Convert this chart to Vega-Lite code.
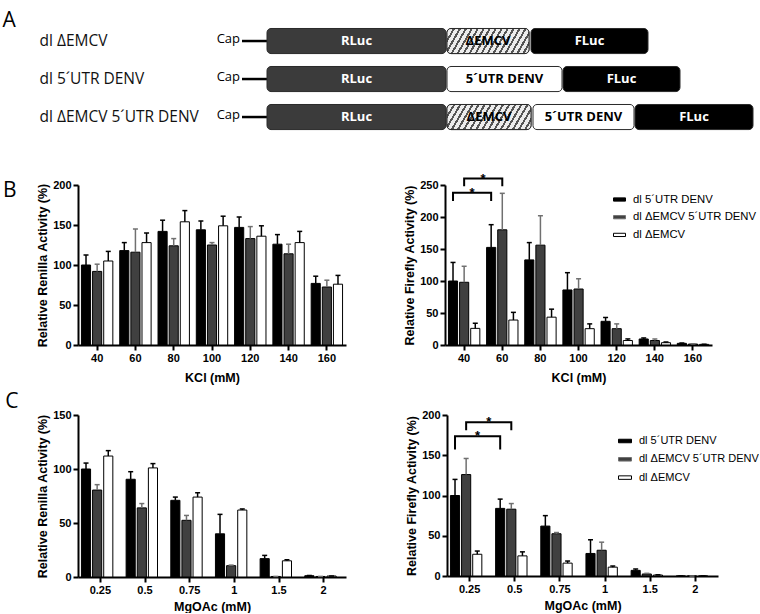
{
  "$schema": "https://vega.github.io/schema/vega-lite/v6.json",
  "padding": {"left": 2, "top": 10, "right": 0, "bottom": 0},
  "resolve": {"scale": {"fill": "independent", "color": "independent"}, "legend": {"fill": "independent", "color": "independent"}},
  "datasets": {
    "constructs": [
      {"construct": "dl ΔEMCV", "part": "Cap", "start": 0, "end": 25},
      {"construct": "dl ΔEMCV", "part": "RLuc", "start": 25, "end": 204},
      {"construct": "dl ΔEMCV", "part": "ΔEMCV", "start": 205, "end": 287},
      {"construct": "dl ΔEMCV", "part": "FLuc", "start": 289, "end": 406},
      {"construct": "dl 5´UTR DENV", "part": "Cap", "start": 0, "end": 25},
      {"construct": "dl 5´UTR DENV", "part": "RLuc", "start": 25, "end": 204},
      {"construct": "dl 5´UTR DENV", "part": "5´UTR DENV", "start": 205, "end": 320},
      {"construct": "dl 5´UTR DENV", "part": "FLuc", "start": 321, "end": 438},
      {"construct": "dl ΔEMCV 5´UTR DENV", "part": "Cap", "start": 0, "end": 25},
      {"construct": "dl ΔEMCV 5´UTR DENV", "part": "RLuc", "start": 25, "end": 204},
      {"construct": "dl ΔEMCV 5´UTR DENV", "part": "ΔEMCV", "start": 205, "end": 289},
      {"construct": "dl ΔEMCV 5´UTR DENV", "part": "5´UTR DENV", "start": 291, "end": 392},
      {"construct": "dl ΔEMCV 5´UTR DENV", "part": "FLuc", "start": 393, "end": 511}
    ],
    "kclRen": [
      {"group": "40", "series": "dl 5´UTR DENV", "mean": 100, "upper": 112.5},
      {"group": "40", "series": "dl ΔEMCV 5´UTR DENV", "mean": 92, "upper": 101},
      {"group": "40", "series": "dl ΔEMCV", "mean": 105, "upper": 117},
      {"group": "60", "series": "dl 5´UTR DENV", "mean": 118, "upper": 128},
      {"group": "60", "series": "dl ΔEMCV 5´UTR DENV", "mean": 116, "upper": 145},
      {"group": "60", "series": "dl ΔEMCV", "mean": 128, "upper": 140},
      {"group": "80", "series": "dl 5´UTR DENV", "mean": 142, "upper": 156},
      {"group": "80", "series": "dl ΔEMCV 5´UTR DENV", "mean": 124, "upper": 133},
      {"group": "80", "series": "dl ΔEMCV", "mean": 154, "upper": 168},
      {"group": "100", "series": "dl 5´UTR DENV", "mean": 144, "upper": 155},
      {"group": "100", "series": "dl ΔEMCV 5´UTR DENV", "mean": 125, "upper": 128},
      {"group": "100", "series": "dl ΔEMCV", "mean": 149, "upper": 161},
      {"group": "120", "series": "dl 5´UTR DENV", "mean": 147, "upper": 160},
      {"group": "120", "series": "dl ΔEMCV 5´UTR DENV", "mean": 133, "upper": 148},
      {"group": "120", "series": "dl ΔEMCV", "mean": 136, "upper": 149},
      {"group": "140", "series": "dl 5´UTR DENV", "mean": 126, "upper": 138},
      {"group": "140", "series": "dl ΔEMCV 5´UTR DENV", "mean": 114, "upper": 126},
      {"group": "140", "series": "dl ΔEMCV", "mean": 128, "upper": 142},
      {"group": "160", "series": "dl 5´UTR DENV", "mean": 77, "upper": 86},
      {"group": "160", "series": "dl ΔEMCV 5´UTR DENV", "mean": 72.5, "upper": 81},
      {"group": "160", "series": "dl ΔEMCV", "mean": 76, "upper": 87}
    ],
    "kclFf": [
      {"group": "40", "series": "dl 5´UTR DENV", "mean": 100, "upper": 129},
      {"group": "40", "series": "dl ΔEMCV 5´UTR DENV", "mean": 98, "upper": 123},
      {"group": "40", "series": "dl ΔEMCV", "mean": 26, "upper": 34},
      {"group": "60", "series": "dl 5´UTR DENV", "mean": 152.5, "upper": 188},
      {"group": "60", "series": "dl ΔEMCV 5´UTR DENV", "mean": 180, "upper": 237},
      {"group": "60", "series": "dl ΔEMCV", "mean": 39, "upper": 51},
      {"group": "80", "series": "dl 5´UTR DENV", "mean": 133, "upper": 160},
      {"group": "80", "series": "dl ΔEMCV 5´UTR DENV", "mean": 156, "upper": 202},
      {"group": "80", "series": "dl ΔEMCV", "mean": 43.5, "upper": 56},
      {"group": "100", "series": "dl 5´UTR DENV", "mean": 86, "upper": 113},
      {"group": "100", "series": "dl ΔEMCV 5´UTR DENV", "mean": 87.5, "upper": 103.5},
      {"group": "100", "series": "dl ΔEMCV", "mean": 25.5, "upper": 33},
      {"group": "120", "series": "dl 5´UTR DENV", "mean": 37, "upper": 43},
      {"group": "120", "series": "dl ΔEMCV 5´UTR DENV", "mean": 25.5, "upper": 33},
      {"group": "120", "series": "dl ΔEMCV", "mean": 7, "upper": 9.5},
      {"group": "140", "series": "dl 5´UTR DENV", "mean": 9.4, "upper": 11},
      {"group": "140", "series": "dl ΔEMCV 5´UTR DENV", "mean": 7, "upper": 9.4},
      {"group": "140", "series": "dl ΔEMCV", "mean": 3.6, "upper": 4.7},
      {"group": "160", "series": "dl 5´UTR DENV", "mean": 2.6, "upper": 3.1},
      {"group": "160", "series": "dl ΔEMCV 5´UTR DENV", "mean": 1.5, "upper": 1.8},
      {"group": "160", "series": "dl ΔEMCV", "mean": 1, "upper": 1.2}
    ],
    "mgRen": [
      {"group": "0.25", "series": "dl 5´UTR DENV", "mean": 100, "upper": 105.5},
      {"group": "0.25", "series": "dl ΔEMCV 5´UTR DENV", "mean": 80.5, "upper": 85.5},
      {"group": "0.25", "series": "dl ΔEMCV", "mean": 112, "upper": 117},
      {"group": "0.5", "series": "dl 5´UTR DENV", "mean": 90.5, "upper": 97.5},
      {"group": "0.5", "series": "dl ΔEMCV 5´UTR DENV", "mean": 64, "upper": 68},
      {"group": "0.5", "series": "dl ΔEMCV", "mean": 101, "upper": 105},
      {"group": "0.75", "series": "dl 5´UTR DENV", "mean": 71, "upper": 74},
      {"group": "0.75", "series": "dl ΔEMCV 5´UTR DENV", "mean": 52.5, "upper": 57},
      {"group": "0.75", "series": "dl ΔEMCV", "mean": 74, "upper": 78},
      {"group": "1", "series": "dl 5´UTR DENV", "mean": 40, "upper": 58},
      {"group": "1", "series": "dl ΔEMCV 5´UTR DENV", "mean": 10.5, "upper": 11},
      {"group": "1", "series": "dl ΔEMCV", "mean": 62, "upper": 63},
      {"group": "1.5", "series": "dl 5´UTR DENV", "mean": 17, "upper": 20},
      {"group": "1.5", "series": "dl ΔEMCV 5´UTR DENV", "mean": 0.5, "upper": 0.5},
      {"group": "1.5", "series": "dl ΔEMCV", "mean": 15, "upper": 16},
      {"group": "2", "series": "dl 5´UTR DENV", "mean": 1.2, "upper": 1.4},
      {"group": "2", "series": "dl ΔEMCV 5´UTR DENV", "mean": 0.5, "upper": 0.5},
      {"group": "2", "series": "dl ΔEMCV", "mean": 0.9, "upper": 1}
    ],
    "mgFf": [
      {"group": "0.25", "series": "dl 5´UTR DENV", "mean": 100, "upper": 120},
      {"group": "0.25", "series": "dl ΔEMCV 5´UTR DENV", "mean": 126, "upper": 146},
      {"group": "0.25", "series": "dl ΔEMCV", "mean": 27, "upper": 31},
      {"group": "0.5", "series": "dl 5´UTR DENV", "mean": 84, "upper": 95.5},
      {"group": "0.5", "series": "dl ΔEMCV 5´UTR DENV", "mean": 83, "upper": 90},
      {"group": "0.5", "series": "dl ΔEMCV", "mean": 25, "upper": 30},
      {"group": "0.75", "series": "dl 5´UTR DENV", "mean": 62, "upper": 75},
      {"group": "0.75", "series": "dl ΔEMCV 5´UTR DENV", "mean": 52.5, "upper": 54},
      {"group": "0.75", "series": "dl ΔEMCV", "mean": 16, "upper": 18.6},
      {"group": "1", "series": "dl 5´UTR DENV", "mean": 28, "upper": 45},
      {"group": "1", "series": "dl ΔEMCV 5´UTR DENV", "mean": 32, "upper": 42},
      {"group": "1", "series": "dl ΔEMCV", "mean": 11, "upper": 12.4},
      {"group": "1.5", "series": "dl 5´UTR DENV", "mean": 7, "upper": 8.7},
      {"group": "1.5", "series": "dl ΔEMCV 5´UTR DENV", "mean": 2.5, "upper": 3.3},
      {"group": "1.5", "series": "dl ΔEMCV", "mean": 1.2, "upper": 1.5},
      {"group": "2", "series": "dl 5´UTR DENV", "mean": 0, "upper": 0},
      {"group": "2", "series": "dl ΔEMCV 5´UTR DENV", "mean": 0, "upper": 0},
      {"group": "2", "series": "dl ΔEMCV", "mean": 0, "upper": 0}
    ],
    "brKcl": [
      {"b": 1, "group": "40", "series": "dl 5´UTR DENV", "v": 225, "o": 1},
      {"b": 1, "group": "40", "series": "dl 5´UTR DENV", "v": 238, "o": 2},
      {"b": 1, "group": "60", "series": "dl 5´UTR DENV", "v": 238, "o": 3},
      {"b": 1, "group": "60", "series": "dl 5´UTR DENV", "v": 225, "o": 4},
      {"b": 2, "group": "40", "series": "dl ΔEMCV 5´UTR DENV", "v": 248, "o": 1},
      {"b": 2, "group": "40", "series": "dl ΔEMCV 5´UTR DENV", "v": 260, "o": 2},
      {"b": 2, "group": "60", "series": "dl ΔEMCV 5´UTR DENV", "v": 260, "o": 3},
      {"b": 2, "group": "60", "series": "dl ΔEMCV 5´UTR DENV", "v": 248, "o": 4}
    ],
    "brMg": [
      {"b": 1, "group": "0.25", "series": "dl 5´UTR DENV", "v": 157, "o": 1},
      {"b": 1, "group": "0.25", "series": "dl 5´UTR DENV", "v": 173.5, "o": 2},
      {"b": 1, "group": "0.5", "series": "dl 5´UTR DENV", "v": 173.5, "o": 3},
      {"b": 1, "group": "0.5", "series": "dl 5´UTR DENV", "v": 157, "o": 4},
      {"b": 2, "group": "0.25", "series": "dl ΔEMCV 5´UTR DENV", "v": 181, "o": 1},
      {"b": 2, "group": "0.25", "series": "dl ΔEMCV 5´UTR DENV", "v": 191, "o": 2},
      {"b": 2, "group": "0.5", "series": "dl ΔEMCV 5´UTR DENV", "v": 191, "o": 3},
      {"b": 2, "group": "0.5", "series": "dl ΔEMCV 5´UTR DENV", "v": 181, "o": 4}
    ]
  },
  "vconcat": [
    {
      "title": {"text": "A", "orient": "left", "anchor": "end", "angle": 0, "frame": "bounds", "offset": 10, "dy": -12, "baseline": "top"},
      "width": 675,
      "height": 143.5,
      "data": {"name": "constructs"},
      "encoding": {
        "y": {
          "field": "construct", "type": "nominal",
          "scale": {"domain": ["dl ΔEMCV", "dl 5´UTR DENV", "dl ΔEMCV 5´UTR DENV"], "paddingInner": 0.34, "paddingOuter": 0.558, "align": 0.153},
          "axis": {"title": null, "domain": false, "ticks": false, "labelAlign": "left", "labelPadding": 39, "labelFont": "Open Sans", "labelFontSize": 15.5, "labelFontWeight": "normal", "labelColor": "#111111"}
        }
      },
      "layer": [
        {
          "transform": [{"filter": "datum.part == 'Cap'"}],
          "mark": {"type": "rule", "color": "#000000", "strokeWidth": 2.5},
          "encoding": {
            "x": {"field": "start", "type": "quantitative", "scale": {"domain": [-164, 511], "nice": false, "zero": false}, "axis": null},
            "x2": {"field": "end"}
          }
        },
        {
          "transform": [{"filter": "datum.part == 'Cap'"}],
          "mark": {"type": "text", "align": "right", "baseline": "middle", "dx": -2, "dy": -2, "font": "Open Sans", "fontSize": 13, "color": "#000000"},
          "encoding": {
            "x": {"field": "start", "type": "quantitative"},
            "text": {"field": "part"}
          }
        },
        {
          "transform": [{"filter": "datum.part != 'Cap'"}],
          "mark": {"type": "bar", "cornerRadius": 4, "stroke": "#2a2a2a", "strokeWidth": 1},
          "encoding": {
            "x": {"field": "start", "type": "quantitative"},
            "x2": {"field": "end"},
            "fill": {"field": "part", "type": "nominal", "scale": {"domain": ["RLuc", "ΔEMCV", "5´UTR DENV", "FLuc"], "range": ["#3b3b3b", "#9a9a9a", "#ffffff", "#000000"]}, "legend": null}
          }
        },
        {
          "transform": [{"filter": "datum.part == 'ΔEMCV'"}],
          "mark": {
            "type": "bar", "cornerRadius": 4, "stroke": "#2a2a2a", "strokeWidth": 1,
            "fill": {
              "gradient": "linear", "x1": 0, "y1": 0, "x2": 1.2, "y2": 0.21,
              "stops": [
                {"offset": 0, "color": "#555555"}, {"offset": 0.0215, "color": "#555555"}, {"offset": 0.0215, "color": "#ececec"}, {"offset": 0.0588, "color": "#ececec"},
                {"offset": 0.0588, "color": "#555555"}, {"offset": 0.0803, "color": "#555555"}, {"offset": 0.0803, "color": "#ececec"}, {"offset": 0.1176, "color": "#ececec"},
                {"offset": 0.1176, "color": "#555555"}, {"offset": 0.1391, "color": "#555555"}, {"offset": 0.1391, "color": "#ececec"}, {"offset": 0.1765, "color": "#ececec"},
                {"offset": 0.1765, "color": "#555555"}, {"offset": 0.198, "color": "#555555"}, {"offset": 0.198, "color": "#ececec"}, {"offset": 0.2353, "color": "#ececec"},
                {"offset": 0.2353, "color": "#555555"}, {"offset": 0.2568, "color": "#555555"}, {"offset": 0.2568, "color": "#ececec"}, {"offset": 0.2941, "color": "#ececec"},
                {"offset": 0.2941, "color": "#555555"}, {"offset": 0.3156, "color": "#555555"}, {"offset": 0.3156, "color": "#ececec"}, {"offset": 0.3529, "color": "#ececec"},
                {"offset": 0.3529, "color": "#555555"}, {"offset": 0.3744, "color": "#555555"}, {"offset": 0.3744, "color": "#ececec"}, {"offset": 0.4118, "color": "#ececec"},
                {"offset": 0.4118, "color": "#555555"}, {"offset": 0.4333, "color": "#555555"}, {"offset": 0.4333, "color": "#ececec"}, {"offset": 0.4706, "color": "#ececec"},
                {"offset": 0.4706, "color": "#555555"}, {"offset": 0.4921, "color": "#555555"}, {"offset": 0.4921, "color": "#ececec"}, {"offset": 0.5294, "color": "#ececec"},
                {"offset": 0.5294, "color": "#555555"}, {"offset": 0.5509, "color": "#555555"}, {"offset": 0.5509, "color": "#ececec"}, {"offset": 0.5882, "color": "#ececec"},
                {"offset": 0.5882, "color": "#555555"}, {"offset": 0.6097, "color": "#555555"}, {"offset": 0.6097, "color": "#ececec"}, {"offset": 0.6471, "color": "#ececec"},
                {"offset": 0.6471, "color": "#555555"}, {"offset": 0.6686, "color": "#555555"}, {"offset": 0.6686, "color": "#ececec"}, {"offset": 0.7059, "color": "#ececec"},
                {"offset": 0.7059, "color": "#555555"}, {"offset": 0.7274, "color": "#555555"}, {"offset": 0.7274, "color": "#ececec"}, {"offset": 0.7647, "color": "#ececec"},
                {"offset": 0.7647, "color": "#555555"}, {"offset": 0.7862, "color": "#555555"}, {"offset": 0.7862, "color": "#ececec"}, {"offset": 0.8235, "color": "#ececec"},
                {"offset": 0.8235, "color": "#555555"}, {"offset": 0.845, "color": "#555555"}, {"offset": 0.845, "color": "#ececec"}, {"offset": 0.8824, "color": "#ececec"},
                {"offset": 0.8824, "color": "#555555"}, {"offset": 0.9039, "color": "#555555"}, {"offset": 0.9039, "color": "#ececec"}, {"offset": 0.9412, "color": "#ececec"},
                {"offset": 0.9412, "color": "#555555"}, {"offset": 0.9627, "color": "#555555"}, {"offset": 0.9627, "color": "#ececec"}, {"offset": 1, "color": "#ececec"}
              ]
            }
          },
          "encoding": {
            "x": {"field": "start", "type": "quantitative"},
            "x2": {"field": "end"}
          }
        },
        {
          "transform": [{"filter": "datum.part != 'Cap'"}, {"calculate": "(datum.start + datum.end) / 2", "as": "mid"}],
          "mark": {"type": "text", "baseline": "middle", "font": "Open Sans", "fontSize": 13, "fontWeight": "bold"},
          "encoding": {
            "x": {"field": "mid", "type": "quantitative"},
            "text": {"field": "part"},
            "color": {"field": "part", "type": "nominal", "scale": {"domain": ["RLuc", "ΔEMCV", "5´UTR DENV", "FLuc"], "range": ["#ffffff", "#000000", "#000000", "#ffffff"]}, "legend": null}
          }
        }
      ]
    },
    {
      "resolve": {"scale": {"fill": "independent", "color": "independent"}, "legend": {"fill": "independent", "color": "independent"}},
      "hconcat": [
        {
          "title": {"text": "B", "orient": "left", "anchor": "end", "angle": 0, "frame": "bounds", "offset": 6.5, "dy": 0.5, "baseline": "top"},
          "width": 268,
          "height": 160,
          "data": {"name": "kclRen"},
          "encoding": {
            "x": {"field": "group", "type": "nominal", "scale": {"domain": ["40", "60", "80", "100", "120", "140", "160"], "paddingInner": 0, "paddingOuter": 0}, "axis": {"title": "KCl (mM)"}},
            "xOffset": {"field": "series", "type": "nominal", "scale": {"domain": ["dl 5´UTR DENV", "dl ΔEMCV 5´UTR DENV", "dl ΔEMCV"], "paddingInner": 0.18, "paddingOuter": 0.31}}
          },
          "layer": [
            {
              "mark": {"type": "bar", "stroke": "#000000", "strokeWidth": 1},
              "encoding": {
                "y": {"field": "mean", "type": "quantitative", "stack": null, "scale": {"domain": [0, 200], "nice": false}, "axis": {"values": [0, 50, 100, 150, 200], "title": "Relative Renilla Activity  (%)"}},
                "fill": {"field": "series", "type": "nominal", "scale": {"domain": ["dl 5´UTR DENV", "dl ΔEMCV 5´UTR DENV", "dl ΔEMCV"], "range": ["#000000", "#404040", "#ffffff"]}, "legend": null}
              }
            },
            {
              "mark": {"type": "rule", "strokeWidth": 1.5},
              "encoding": {
                "y": {"field": "mean", "type": "quantitative", "axis": {"values": [0, 50, 100, 150, 200], "title": "Relative Renilla Activity  (%)"}},
                "y2": {"field": "upper"},
                "color": {"field": "series", "type": "nominal", "scale": {"domain": ["dl 5´UTR DENV", "dl ΔEMCV 5´UTR DENV", "dl ΔEMCV"], "range": ["#000000", "#707070", "#000000"]}, "legend": null}
              }
            },
            {
              "mark": {"type": "tick", "thickness": 1.5, "size": 5, "opacity": 1},
              "encoding": {
                "y": {"field": "upper", "type": "quantitative", "axis": {"values": [0, 50, 100, 150, 200], "title": "Relative Renilla Activity  (%)"}},
                "color": {"field": "series", "type": "nominal", "legend": null}
              }
            }
          ]
        },
        {
          "width": 267,
          "height": 160,
          "data": {"name": "kclFf"},
          "encoding": {
            "x": {"field": "group", "type": "nominal", "scale": {"domain": ["40", "60", "80", "100", "120", "140", "160"], "paddingInner": 0, "paddingOuter": 0}, "axis": {"title": "KCl (mM)"}},
            "xOffset": {"field": "series", "type": "nominal", "scale": {"domain": ["dl 5´UTR DENV", "dl ΔEMCV 5´UTR DENV", "dl ΔEMCV"], "paddingInner": 0.26, "paddingOuter": 0.43}}
          },
          "layer": [
            {
              "mark": {"type": "bar", "stroke": "#000000", "strokeWidth": 1},
              "encoding": {
                "y": {"field": "mean", "type": "quantitative", "stack": null, "scale": {"domain": [0, 250], "nice": false}, "axis": {"values": [0, 50, 100, 150, 200, 250], "title": "Relative Firefly Activity  (%)"}},
                "fill": {
                  "field": "series", "type": "nominal",
                  "scale": {"domain": ["dl 5´UTR DENV", "dl ΔEMCV 5´UTR DENV", "dl ΔEMCV"], "range": ["#000000", "#404040", "#ffffff"]},
                  "legend": {"orient": "none", "legendX": 168, "legendY": 8, "title": null, "symbolType": "M-1,-0.27H1V0.27H-1Z", "symbolSize": 144, "symbolOpacity": 1, "symbolStrokeColor": "#000000", "symbolStrokeWidth": 1, "labelFont": "Liberation Sans", "labelFontSize": 11.3, "labelFontWeight": "normal", "labelColor": "#000000", "rowPadding": 5.7, "labelOffset": 7}
                }
              }
            },
            {
              "mark": {"type": "rule", "strokeWidth": 1.5},
              "encoding": {
                "y": {"field": "mean", "type": "quantitative", "axis": {"values": [0, 50, 100, 150, 200, 250], "title": "Relative Firefly Activity  (%)"}},
                "y2": {"field": "upper"},
                "color": {"field": "series", "type": "nominal", "scale": {"domain": ["dl 5´UTR DENV", "dl ΔEMCV 5´UTR DENV", "dl ΔEMCV"], "range": ["#000000", "#707070", "#000000"]}, "legend": null}
              }
            },
            {
              "mark": {"type": "tick", "thickness": 1.5, "size": 5, "opacity": 1},
              "encoding": {
                "y": {"field": "upper", "type": "quantitative", "axis": {"values": [0, 50, 100, 150, 200, 250], "title": "Relative Firefly Activity  (%)"}},
                "color": {"field": "series", "type": "nominal", "legend": null}
              }
            },
            {
              "data": {"name": "brKcl"},
              "mark": {"type": "line", "color": "#000000", "strokeWidth": 2},
              "encoding": {
                "y": {"field": "v", "type": "quantitative", "axis": {"values": [0, 50, 100, 150, 200, 250], "title": "Relative Firefly Activity  (%)"}},
                "detail": {"field": "b", "type": "nominal"},
                "order": {"field": "o", "type": "quantitative"}
              }
            },
            {
              "data": {"name": "brKcl"},
              "transform": [{"filter": "datum.o == 2"}],
              "mark": {"type": "text", "dx": 19, "dy": 4, "baseline": "alphabetic", "fontSize": 13, "fontWeight": "bold", "color": "#000000"},
              "encoding": {
                "y": {"field": "v", "type": "quantitative", "axis": {"values": [0, 50, 100, 150, 200, 250], "title": "Relative Firefly Activity  (%)"}},
                "text": {"value": "*"}
              }
            }
          ]
        }
      ],
      "spacing": 99,
      "bounds": "flush"
    },
    {
      "resolve": {"scale": {"fill": "independent", "color": "independent"}, "legend": {"fill": "independent", "color": "independent"}},
      "hconcat": [
        {
          "title": {"text": "C", "orient": "left", "anchor": "end", "angle": 0, "frame": "bounds", "offset": 5, "dy": -18.5, "baseline": "top"},
          "width": 268,
          "height": 162,
          "data": {"name": "mgRen"},
          "encoding": {
            "x": {"field": "group", "type": "nominal", "scale": {"domain": ["0.25", "0.5", "0.75", "1", "1.5", "2"], "paddingInner": 0, "paddingOuter": 0}, "axis": {"title": "MgOAc (mM)", "titlePadding": 5}},
            "xOffset": {"field": "series", "type": "nominal", "scale": {"domain": ["dl 5´UTR DENV", "dl ΔEMCV 5´UTR DENV", "dl ΔEMCV"], "paddingInner": 0.33, "paddingOuter": 0.43}}
          },
          "layer": [
            {
              "mark": {"type": "bar", "stroke": "#000000", "strokeWidth": 1},
              "encoding": {
                "y": {"field": "mean", "type": "quantitative", "stack": null, "scale": {"domain": [0, 150], "nice": false}, "axis": {"values": [0, 50, 100, 150], "title": "Relative Renilla Activity  (%)"}},
                "fill": {"field": "series", "type": "nominal", "scale": {"domain": ["dl 5´UTR DENV", "dl ΔEMCV 5´UTR DENV", "dl ΔEMCV"], "range": ["#000000", "#404040", "#ffffff"]}, "legend": null}
              }
            },
            {
              "mark": {"type": "rule", "strokeWidth": 1.5},
              "encoding": {
                "y": {"field": "mean", "type": "quantitative", "axis": {"values": [0, 50, 100, 150], "title": "Relative Renilla Activity  (%)"}},
                "y2": {"field": "upper"},
                "color": {"field": "series", "type": "nominal", "scale": {"domain": ["dl 5´UTR DENV", "dl ΔEMCV 5´UTR DENV", "dl ΔEMCV"], "range": ["#000000", "#707070", "#000000"]}, "legend": null}
              }
            },
            {
              "mark": {"type": "tick", "thickness": 1.5, "size": 5, "opacity": 1},
              "encoding": {
                "y": {"field": "upper", "type": "quantitative", "axis": {"values": [0, 50, 100, 150], "title": "Relative Renilla Activity  (%)"}},
                "color": {"field": "series", "type": "nominal", "legend": null}
              }
            }
          ]
        },
        {
          "width": 271,
          "height": 161,
          "data": {"name": "mgFf"},
          "encoding": {
            "x": {"field": "group", "type": "nominal", "scale": {"domain": ["0.25", "0.5", "0.75", "1", "1.5", "2"], "paddingInner": 0, "paddingOuter": 0}, "axis": {"title": "MgOAc (mM)", "titlePadding": 5}},
            "xOffset": {"field": "series", "type": "nominal", "scale": {"domain": ["dl 5´UTR DENV", "dl ΔEMCV 5´UTR DENV", "dl ΔEMCV"], "paddingInner": 0.3, "paddingOuter": 0.61}}
          },
          "layer": [
            {
              "mark": {"type": "bar", "stroke": "#000000", "strokeWidth": 1},
              "encoding": {
                "y": {"field": "mean", "type": "quantitative", "stack": null, "scale": {"domain": [0, 200], "nice": false}, "axis": {"values": [0, 50, 100, 150, 200], "title": "Relative Firefly Activity  (%)"}},
                "fill": {
                  "field": "series", "type": "nominal",
                  "scale": {"domain": ["dl 5´UTR DENV", "dl ΔEMCV 5´UTR DENV", "dl ΔEMCV"], "range": ["#000000", "#404040", "#ffffff"]},
                  "legend": {"orient": "none", "legendX": 171, "legendY": 19, "title": null, "symbolType": "M-1,-0.27H1V0.27H-1Z", "symbolSize": 169, "symbolOpacity": 1, "symbolStrokeColor": "#000000", "symbolStrokeWidth": 1, "labelFont": "Liberation Sans", "labelFontSize": 11, "labelFontWeight": "normal", "labelColor": "#000000", "rowPadding": 6.3, "labelOffset": 7}
                }
              }
            },
            {
              "mark": {"type": "rule", "strokeWidth": 1.5},
              "encoding": {
                "y": {"field": "mean", "type": "quantitative", "axis": {"values": [0, 50, 100, 150, 200], "title": "Relative Firefly Activity  (%)"}},
                "y2": {"field": "upper"},
                "color": {"field": "series", "type": "nominal", "scale": {"domain": ["dl 5´UTR DENV", "dl ΔEMCV 5´UTR DENV", "dl ΔEMCV"], "range": ["#000000", "#707070", "#000000"]}, "legend": null}
              }
            },
            {
              "mark": {"type": "tick", "thickness": 1.5, "size": 5, "opacity": 1},
              "encoding": {
                "y": {"field": "upper", "type": "quantitative", "axis": {"values": [0, 50, 100, 150, 200], "title": "Relative Firefly Activity  (%)"}},
                "color": {"field": "series", "type": "nominal", "legend": null}
              }
            },
            {
              "data": {"name": "brMg"},
              "mark": {"type": "line", "color": "#000000", "strokeWidth": 2},
              "encoding": {
                "y": {"field": "v", "type": "quantitative", "axis": {"values": [0, 50, 100, 150, 200], "title": "Relative Firefly Activity  (%)"}},
                "detail": {"field": "b", "type": "nominal"},
                "order": {"field": "o", "type": "quantitative"}
              }
            },
            {
              "data": {"name": "brMg"},
              "transform": [{"filter": "datum.o == 2"}],
              "mark": {"type": "text", "dx": 22.6, "dy": 4, "baseline": "alphabetic", "fontSize": 13, "fontWeight": "bold", "color": "#000000"},
              "encoding": {
                "y": {"field": "v", "type": "quantitative", "axis": {"values": [0, 50, 100, 150, 200], "title": "Relative Firefly Activity  (%)"}},
                "text": {"value": "*"}
              }
            }
          ]
        }
      ],
      "spacing": 101,
      "bounds": "flush"
    }
  ],
  "spacing": 6,
  "config": {
    "view": {"stroke": null},
    "font": "Liberation Sans",
    "title": {"font": "Open Sans", "fontSize": 21, "fontWeight": "normal", "color": "#000000"},
    "axis": {
      "domainColor": "#000000", "domainWidth": 2, "tickColor": "#000000", "tickWidth": 2, "tickSize": 5,
      "labelFont": "Liberation Sans", "labelFontWeight": "bold", "labelFontSize": 11, "labelColor": "#000000", "labelPadding": 2, "labelOverlap": false,
      "titleFont": "Liberation Sans", "titleFontWeight": "bold", "titleFontSize": 12.5, "titleColor": "#000000",
      "grid": false
    },
    "axisX": {"labelAngle": 0, "titlePadding": 8},
    "axisY": {"titlePadding": 3}
  }
}
